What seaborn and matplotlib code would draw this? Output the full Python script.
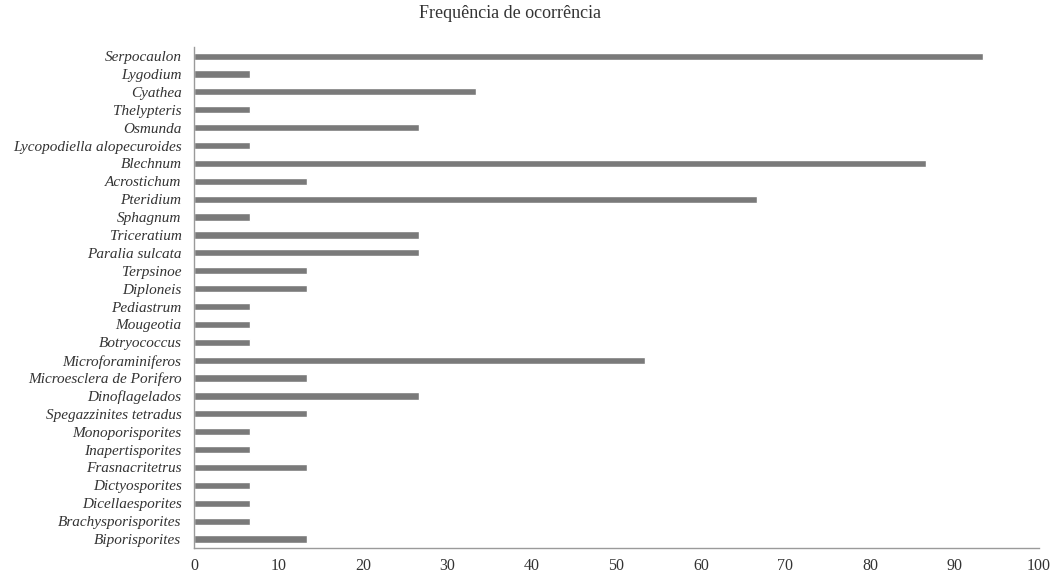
import pandas as pd
import seaborn as sns
import matplotlib.pyplot as plt

taxa = [
    "Serpocaulon", "Lygodium", "Cyathea", "Thelypteris", "Osmunda",
    "Lycopodiella alopecuroides", "Blechnum", "Acrostichum", "Pteridium",
    "Sphagnum", "Triceratium", "Paralia sulcata", "Terpsinoe", "Diploneis",
    "Pediastrum", "Mougeotia", "Botryococcus", "Microforaminiferos",
    "Microesclera de Porifero", "Dinoflagelados", "Spegazzinites tetradus",
    "Monoporisporites", "Inapertisporites", "Frasnacritetrus",
    "Dictyosporites", "Dicellaesporites", "Brachysporisporites",
    "Biporisporites",
]
freq = [
    93.33, 6.67, 33.33, 6.67, 26.67,
    6.67, 86.67, 13.33, 66.67,
    6.67, 26.67, 26.67, 13.33, 13.33,
    6.67, 6.67, 6.67, 53.33,
    13.33, 26.67, 13.33,
    6.67, 6.67, 13.33,
    6.67, 6.67, 6.67,
    13.33,
]
x_ticks = [0, 10, 20, 30, 40, 50, 60, 70, 80, 90, 100]

df = pd.DataFrame({"taxon": taxa, "freq": freq})

sns.set_style("white")
plt.rcParams["font.family"] = ["Liberation Serif", "DejaVu Serif"]

fig = plt.figure(figsize=(10.53, 5.75), dpi=100)
ax = fig.add_axes([0.1842, 0.047, 0.8025, 0.871])

sns.barplot(data=df, x="freq", y="taxon", orient="h", color="#7a7a7a",
            width=0.4, saturation=1, ax=ax)

ax.set_xlim(0, 100)
ax.set_ylim(27.5, -0.5)
ax.set_xticks(x_ticks)
ax.set_xlabel("")
ax.set_ylabel("")
ax.tick_params(axis="x", length=0, pad=7, labelsize=11.5, colors="#333333")
ax.tick_params(axis="y", length=0, pad=9, labelsize=11, colors="#333333")
for lab in ax.get_yticklabels():
    lab.set_fontstyle("italic")

for side in ["top", "right"]:
    ax.spines[side].set_visible(False)
for side in ["left", "bottom"]:
    ax.spines[side].set_color("#9a9a9a")
    ax.spines[side].set_linewidth(1.0)

fig.text(0.484, 1 - 14 / 575, "Frequência de ocorrência", ha="center",
         va="center", fontsize=13, color="#333333")

fig.savefig("out.png", dpi=100)
